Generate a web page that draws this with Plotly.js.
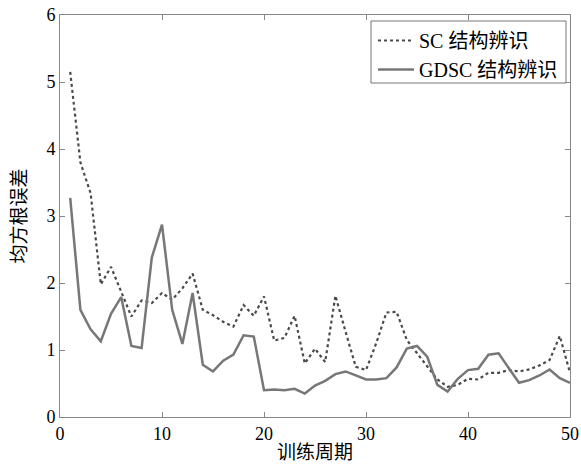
<!DOCTYPE html>
<html>
<head>
<meta charset="utf-8">
<script src="https://cdn.plot.ly/plotly-3.0.1.min.js"></script>
<style>html,body{margin:0;padding:0;background:#fff;}#chart{width:581px;height:464px;}</style>
</head>
<body>
<div id="chart"></div>
<script>
const epochs = [];
for (let i = 1; i <= 50; i++) epochs.push(i);
const scRmse = [5.15,3.80,3.34,1.98,2.24,1.87,1.50,1.74,1.70,1.85,
                1.75,1.92,2.14,1.60,1.52,1.42,1.35,1.67,1.51,1.80,
                1.14,1.18,1.51,0.80,1.02,0.82,1.81,1.27,0.75,0.70,
                1.10,1.56,1.57,1.15,0.95,0.75,0.56,0.45,0.48,0.57,
                0.56,0.66,0.66,0.70,0.68,0.71,0.77,0.85,1.21,0.66];
const gdscRmse = [3.27,1.60,1.31,1.13,1.54,1.79,1.06,1.03,2.38,2.87,
                  1.60,1.09,1.85,0.78,0.68,0.84,0.93,1.22,1.20,0.40,
                  0.41,0.40,0.42,0.35,0.47,0.54,0.64,0.68,0.62,0.56,
                  0.56,0.58,0.74,1.02,1.06,0.90,0.48,0.38,0.57,0.70,
                  0.72,0.93,0.95,0.73,0.51,0.55,0.62,0.71,0.58,0.51];
const seriesNames = ['SC 结构辨识', 'GDSC 结构辨识'];
const xTitle = '训练周期';
const yTitle = '均方根误差';

const fontFam = '"Liberation Serif", "Times New Roman", "Noto Sans CJK SC", serif';
const traces = [
  {x: epochs, y: scRmse, name: seriesNames[0], type: 'scatter', mode: 'lines',
   line: {color: '#4a4a4a', width: 2.2, dash: 'dot'}},
  {x: epochs, y: gdscRmse, name: seriesNames[1], type: 'scatter', mode: 'lines',
   line: {color: '#777777', width: 2.5}}
];
const axisCommon = {
  showgrid: false, zeroline: false, showline: true, linecolor: '#888', linewidth: 1,
  mirror: 'ticks', ticks: 'inside', ticklen: 5, tickcolor: '#888',
  tickfont: {family: fontFam, size: 18, color: '#000'}
};
const layout = {
  width: 581, height: 464,
  margin: {l: 60, r: 11, t: 15, b: 47},
  paper_bgcolor: '#fff', plot_bgcolor: '#fff',
  font: {family: fontFam, color: '#000'},
  showlegend: true,
  legend: {x: (373 - 60) / 510, xanchor: 'left', y: (417 - 21) / 402, yanchor: 'top',
           bgcolor: 'rgba(0,0,0,0)', borderwidth: 0, tracegroupgap: 0, itemwidth: 36,
           font: {family: fontFam, size: 20, color: '#000'}},
  shapes: [{type: 'rect', xref: 'paper', yref: 'paper', layer: 'below',
            x0: (371 - 60) / 510, x1: (566 - 60) / 510,
            y0: (417 - 83) / 402, y1: (417 - 21) / 402,
            line: {color: '#777', width: 1}, fillcolor: '#fff'}],
  xaxis: Object.assign({}, axisCommon, {range: [0, 50], tickvals: [0,10,20,30,40,50],
           title: {text: xTitle, font: {family: fontFam, size: 19}, standoff: 3}}),
  yaxis: Object.assign({}, axisCommon, {range: [0, 6], tickvals: [0,1,2,3,4,5,6],
           title: {text: yTitle, font: {family: fontFam, size: 19}, standoff: 14}})
};
Plotly.newPlot('chart', traces, layout, {displayModeBar: false, staticPlot: true});
</script>
</body>
</html>
